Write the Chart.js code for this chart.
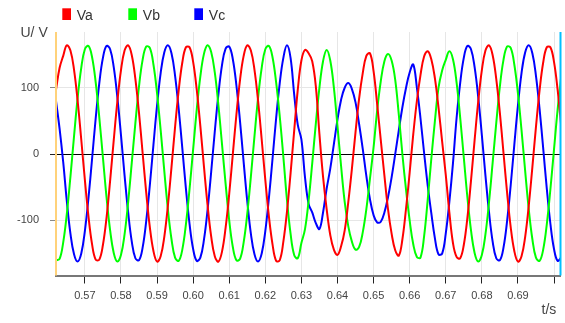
<!DOCTYPE html>
<html><head><meta charset="utf-8">
<script src="https://cdn.jsdelivr.net/npm/chart.js@4/dist/chart.umd.min.js"></script>
<style>html,body{margin:0;padding:0;background:#fff}#wrap{width:565px;height:323px;position:relative}</style>
</head><body><div id="wrap"><canvas id="c" width="565" height="323"></canvas></div>
<script>
const times = [
0.562,0.563,0.564,0.565,0.566,0.567,0.568,0.569,0.570,0.571,
0.572,0.573,0.574,0.575,0.576,0.577,0.578,0.579,0.580,0.581,
0.582,0.583,0.584,0.585,0.586,0.587,0.588,0.589,0.590,0.591,
0.592,0.593,0.594,0.595,0.596,0.597,0.598,0.599,0.600,0.601,
0.602,0.603,0.604,0.605,0.606,0.607,0.608,0.609,0.610,0.611,
0.612,0.613,0.614,0.615,0.616,0.617,0.618,0.619,0.620,0.621,
0.622,0.623,0.624,0.625,0.626,0.627,0.628,0.629,0.630,0.631,
0.632,0.633,0.634,0.635,0.636,0.637,0.638,0.639,0.640,0.641,
0.642,0.643,0.644,0.645,0.646,0.647,0.648,0.649,0.650,0.651,
0.652,0.653,0.654,0.655,0.656,0.657,0.658,0.659,0.660,0.661,
0.662,0.663,0.664,0.665,0.666,0.667,0.668,0.669,0.670,0.671,
0.672,0.673,0.674,0.675,0.676,0.677,0.678,0.679,0.680,0.681,
0.682,0.683,0.684,0.685,0.686,0.687,0.688,0.689,0.690,0.691,
0.692,0.693,0.694,0.695,0.696,0.697,0.698,0.699,0.700,0.701,
0.702];
const va = [
97,130,148,164,156,127,80,22,-39,-94,
-136,-159,-159,-137,-96,-40,21,79,126,156,
164,149,113,62,2,-58,-110,-146,-162,-154,
-125,-78,-20,41,96,138,161,161,139,97,
42,-19,-77,-124,-154,-162,-147,-111,-60,0,
60,112,148,164,156,127,80,22,-39,-94,
-136,-161,-160,-132,-87,-29,35,97,141,157,
152,140,102,30,-34,-83,-122,-144,-152,-139,
-115,-72,-22,33,84,122,148,152,125,75,
21,-32,-83,-120,-145,-153,-128,-82,-28,30,
80,119,147,155,143,114,70,19,-31,-88,
-134,-155,-157,-137,-96,-40,21,79,126,156,
164,149,113,62,2,-58,-110,-146,-162,-154,
-125,-78,-20,41,96,138,161,161,139,97,
42];
const vb = [
-160,-158,-133,-90,-34,27,85,130,158,163,
146,108,55,-5,-65,-115,-149,-162,-152,-121,
-72,-13,47,102,142,162,160,135,92,36,
-25,-83,-128,-156,-161,-144,-106,-53,7,67,
117,151,164,154,123,74,15,-45,-100,-140,
-160,-158,-133,-90,-34,27,85,130,158,163,
146,108,57,-4,-69,-120,-152,-157,-134,-113,
-70,-14,46,100,140,157,141,100,42,-18,
-72,-109,-132,-144,-140,-118,-83,-37,10,66,
110,140,151,141,112,59,-1,-54,-100,-136,
-155,-156,-124,-69,-7,50,100,126,142,155,
143,108,55,-5,-65,-115,-149,-162,-152,-121,
-72,-13,47,102,142,162,160,135,92,36,
-25,-83,-128,-156,-161,-144,-106,-53,7,67,
117];
const vc = [
80,38,-12,-71,-120,-151,-162,-150,-116,-66,
-7,54,107,145,163,158,131,86,29,-32,
-88,-132,-157,-160,-141,-101,-47,14,73,122,
153,164,152,118,68,9,-52,-105,-143,-161,
-156,-129,-84,-27,34,90,134,159,162,143,
103,49,-12,-71,-120,-151,-162,-150,-116,-66,
-7,54,107,145,164,145,90,44,22,-35,
-75,-88,-104,-113,-88,-52,-22,15,52,82,
100,107,98,78,45,8,-33,-68,-92,-103,
-102,-88,-65,-35,0,36,71,100,123,135,
100,54,2,-47,-89,-127,-151,-150,-120,-72,
-14,54,107,145,163,158,131,86,29,-32,
-88,-132,-157,-160,-141,-101,-47,14,73,122,
153,164,152,118,68,9,-52,-105,-143,-161,
-156];
const seriesNames = ['Va','Vb','Vc'];
const seriesColors = ['#ff0000','#00ff00','#0000ff'];
const xTickValues = [0.57,0.58,0.59,0.60,0.61,0.62,0.63,0.64,0.65,0.66,0.67,0.68,0.69,0.70];
const xTickLabels = ['0.57','0.58','0.59','0.60','0.61','0.62','0.63','0.64','0.65','0.66','0.67','0.68','0.69',''];
const yTickValues = [-100,0,100];
const xUnit = 't/s';
const yUnit = 'U/ V';

const FONT = "'Liberation Sans Narrow','Arial Narrow','Liberation Sans',Arial,sans-serif";
const series = [va, vb, vc];

const decor = {
  id: 'decor',
  afterDatasetsDraw(chart) {
    const {ctx, chartArea: a} = chart;
    ctx.save();
    ctx.lineWidth = 2;
    ctx.strokeStyle = '#ffd27a';
    ctx.beginPath(); ctx.moveTo(a.left, a.top); ctx.lineTo(a.left, a.bottom); ctx.stroke();
    ctx.strokeStyle = '#00bfff';
    ctx.beginPath(); ctx.moveTo(a.right, a.top); ctx.lineTo(a.right, a.bottom); ctx.stroke();
    ctx.restore();
  },
  afterDraw(chart) {
    const {ctx} = chart;
    ctx.save();
    ctx.font = '14px ' + FONT;
    ctx.fillStyle = '#444';
    ctx.textBaseline = 'alphabetic';
    ctx.textAlign = 'left';
    ctx.fillText(yUnit, 20.5, 36.5);
    ctx.fillText(xUnit, 541.5, 314);
    chart.data.datasets.forEach((ds, i) => {
      const bx = 62.3 + 66 * i;
      ctx.fillStyle = ds.borderColor;
      ctx.fillRect(bx, 8.3, 8.7, 11.7);
      ctx.fillStyle = '#333';
      ctx.fillText(ds.label, bx + 14.5, 19.5);
    });
    ctx.restore();
  }
};

new Chart(document.getElementById('c'), {
  type: 'line',
  data: {
    datasets: series.map((s, i) => ({
      label: seriesNames[i],
      data: s.map((v, k) => ({x: times[k], y: v})),
      borderColor: seriesColors[i],
      backgroundColor: seriesColors[i],
      borderWidth: 2,
      pointRadius: 0,
      tension: 0.4,
      fill: false
    }))
  },
  options: {
    responsive: false,
    animation: false,
    layout: {padding: {left: 0, right: 4.5, top: 32, bottom: 0}},
    plugins: {legend: {display: false}, tooltip: {enabled: false}},
    scales: {
      x: {
        type: 'linear', min: 0.562, max: 0.7018,
        afterBuildTicks: s => { s.ticks = xTickValues.map(v => ({value: v})); },
        afterFit: s => { s.height = 47.5; },
        ticks: {autoSkip: false, maxRotation: 0, minRotation: 0, padding: 6, color: '#444',
          font: {family: FONT, size: 11},
          callback: (v, i) => xTickLabels[i]},
        grid: {color: '#e6e6e6', lineWidth: 1, tickColor: '#222', tickLength: 8, tickWidth: 1},
        border: {color: '#777', width: 2}
      },
      y: {
        min: -183, max: 184,
        afterBuildTicks: s => { s.ticks = yTickValues.map(v => ({value: v})); },
        afterFit: s => { s.width = 56; },
        ticks: {padding: 11, color: '#444', font: {family: FONT, size: 11}},
        grid: {
          color: c => (c.tick && c.tick.value === 0) ? '#000' : '#e6e6e6',
          tickColor: c => (c.tick && c.tick.value === 0) ? '#222' : '#888',
          tickLength: 6, lineWidth: 1
        },
        border: {display: false}
      }
    }
  },
  plugins: [decor]
});
</script>
</body></html>
